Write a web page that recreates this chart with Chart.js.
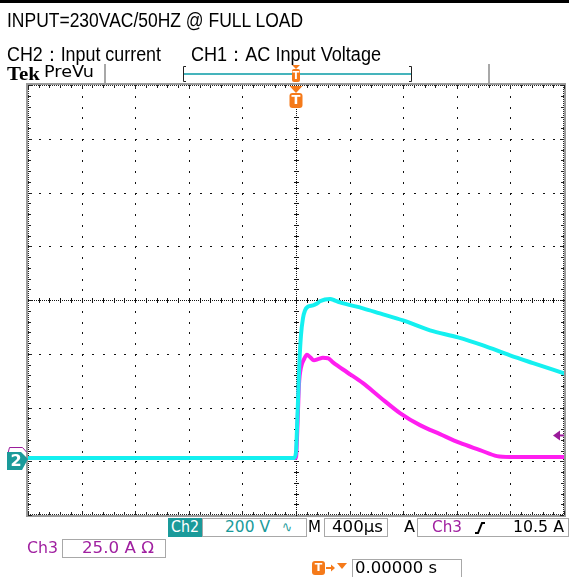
<!DOCTYPE html>
<html>
<head>
<meta charset="utf-8">
<script src="https://cdn.jsdelivr.net/npm/chart.js@4.4.1/dist/chart.umd.min.js"></script>
<style>
  html,body{margin:0;padding:0;background:#fff;}
  #wrap{position:relative;width:569px;height:577px;overflow:hidden;background:#fff;}
  #c{position:absolute;left:0;top:0;}
  .l{position:absolute;white-space:nowrap;line-height:1;transform-origin:0 0;}
  .hd{font-family:"Liberation Sans Narrow","Liberation Sans",Arial,sans-serif;font-size:20px;color:#000;}
  .tk{font-family:"DejaVu Sans",sans-serif;font-size:15px;}
  .box{position:absolute;border:1px solid #a8a8a8;background:#fff;box-sizing:border-box;}
</style>
</head>
<body>
<div id="wrap">
  <canvas id="c" width="569" height="577"></canvas>
  <div style="position:absolute;left:0;top:0;width:569px;height:3px;background:#000"></div>

  <div class="l hd" style="left:7px;top:10px" data-w="296">INPUT=230VAC/50HZ @ FULL LOAD</div>
  <div class="l hd" style="left:7px;top:44px" data-w="154">CH2：Input current</div>
  <div class="l hd" style="left:191px;top:44px" data-w="190">CH1：AC Input Voltage</div>

  <div class="l" style="left:7px;top:64px;font-family:'Liberation Serif',serif;font-weight:bold;font-size:19px" data-w="33">Tek</div>
  <div class="l tk" style="left:43.5px;top:65px;font-size:15px" data-w="50">PreVu</div>

  <!-- bottom status row 1 -->
  <div class="box" style="left:168px;top:518px;width:34px;height:19px;background:#1a9a9a;border-color:#1a9a9a"></div>
  <div class="l tk" style="left:170.5px;top:520px;color:#fff" data-w="28">Ch2</div>
  <div class="box" style="left:202px;top:518px;width:105px;height:19px"></div>
  <div class="l tk" style="left:225px;top:520px;color:#1a9a9a" data-w="45">200 V</div>
  <div class="l tk" style="left:282px;top:520px;color:#1a9a9a" data-w="10">∿</div>
  <div class="l tk" style="left:308px;top:520px;color:#000" data-w="13">M</div>
  <div class="box" style="left:324px;top:518px;width:64px;height:19px"></div>
  <div class="l tk" style="left:332px;top:520px;color:#000" data-w="51">400µs</div>
  <div class="l tk" style="left:404px;top:520px;color:#000" data-w="11">A</div>
  <div class="box" style="left:417px;top:518px;width:152px;height:19px"></div>
  <div class="l tk" style="left:432px;top:520px;color:#a020a0" data-w="30">Ch3</div>
  <svg style="position:absolute;left:474px;top:521px" width="12" height="14"><polyline points="1,12 4,12 8,2 11,2" fill="none" stroke="#000" stroke-width="2"/></svg>
  <div class="l tk" style="left:513px;top:520px;color:#000" data-w="51">10.5 A</div>

  <!-- row 2 -->
  <div class="l tk" style="left:27px;top:541px;color:#a020a0" data-w="31">Ch3</div>
  <div class="box" style="left:62px;top:539px;width:104px;height:19px"></div>
  <div class="l tk" style="left:82px;top:541px;color:#a020a0" data-w="72">25.0 A Ω</div>

  <!-- row 3 -->
  <div class="box" style="left:352px;top:559px;width:110px;height:20px"></div>
  <div class="l tk" style="left:355px;top:561px;color:#000" data-w="82">0.00000 s</div>
</div>

<script>
// ---- data (time in µs, Ch2 in volts, Ch3 in amps) ----
const timeCh2 = [-2000, -15, 0, 7, 15, 26, 37, 52, 67, 90, 127, 157, 179, 216, 254, 291, 328, 500, 627, 799, 1000, 1209, 1396, 1597, 1769, 2000];
const ch2Volts = [0, 0, 22, 104, 215, 364, 456, 520, 549, 564, 568, 575, 583, 590, 592, 586, 579, 557, 538, 512, 475, 449, 419, 382, 353, 315];

const timeCh3 = [-2000, 0, 7, 15, 22, 37, 60, 82, 104, 134, 164, 201, 239, 276, 381, 500, 627, 776, 925, 1075, 1224, 1373, 1500, 1597, 2000];
const ch3Amps = [0, 0, 8.3, 22, 34, 42, 46, 48, 47, 45.5, 46, 46.6, 46.4, 44.5, 39.9, 34.8, 28.3, 20.9, 15.3, 11.1, 7.0, 3.7, 0.9, 0.5, 0.5];

// scope settings (from the status bar)
const US_PER_DIV = 400;
const VOLTS_PER_DIV = 200;
const AMPS_PER_DIV = 25;
const TRIGGER_AMPS = 10.5;
const GROUND_DIV = -2.94;   // both channel ground markers

const ORANGE = '#f57a1a';
const TEAL = '#1a9a9a';
const PURPLE = '#9a1a9a';

const graticule = {
  id: 'graticule',
  beforeDatasetsDraw(chart) {
    const {ctx, chartArea: a, scales} = chart;
    const X = d => scales.x.getPixelForValue(d * US_PER_DIV);
    const Y = d => scales.g.getPixelForValue(d);
    ctx.save();
    ctx.strokeStyle = '#9a9a9a';
    ctx.lineWidth = 2;
    ctx.strokeRect(a.left - 1, a.top - 1, a.right - a.left + 2, a.bottom - a.top + 2);
    ctx.fillStyle = '#222';
    for (let px = Math.round(a.left); px <= a.right; px += 2) {
      ctx.fillRect(px, Math.round(a.top), 1, 1);
      ctx.fillRect(px, Math.round(a.bottom) - 1, 1, 1);
    }
    for (let py = Math.round(a.top); py <= a.bottom; py += 2) {
      ctx.fillRect(Math.round(a.left), py, 1, 1);
      ctx.fillRect(Math.round(a.right) - 1, py, 1, 1);
    }
    for (let m = -25; m <= 25; m++) {
      const px = Math.round(X(m / 5));
      const len = (m % 5 === 0) ? 4 : 3;
      ctx.fillRect(px, Math.round(a.top), 1, len);
      ctx.fillRect(px, Math.round(a.bottom) - len, 1, len);
    }
    for (let m = -20; m <= 20; m++) {
      const py = Math.round(Y(m / 5));
      const len = (m % 5 === 0) ? 4 : 3;
      ctx.fillRect(Math.round(a.left), py, len, 1);
      ctx.fillRect(Math.round(a.right) - len, py, len, 1);
    }
    ctx.fillStyle = '#111';
    for (let k = -4; k <= 4; k++) {
      if (k === 0) continue;
      const px = Math.round(X(k));
      for (let m = -19; m <= 19; m++) ctx.fillRect(px, Math.round(Y(m / 5)), 1, 2);
    }
    for (let j = -3; j <= 3; j++) {
      if (j === 0) continue;
      const py = Math.round(Y(j));
      for (let m = -24; m <= 24; m++) ctx.fillRect(Math.round(X(m / 5)), py, 2, 1);
    }
    const cx = Math.round(X(0)), cy = Math.round(Y(0));
    for (let py = Math.round(a.top); py <= a.bottom; py += 2) ctx.fillRect(cx, py, 1, 1);
    for (let px = Math.round(a.left); px <= a.right; px += 2) ctx.fillRect(px, cy, 1, 1);
    for (let m = -19; m <= 19; m++) ctx.fillRect(cx - 2, Math.round(Y(m / 5)), 5, 1);
    for (let m = -24; m <= 24; m++) ctx.fillRect(Math.round(X(m / 5)), cy - 2, 1, 5);
    ctx.restore();
  },
  afterDraw(chart) {
    const {ctx, chartArea: a, scales} = chart;
    const cx = scales.x.getPixelForValue(0);
    ctx.save();
    ctx.fillStyle = '#a8a8a8';
    ctx.fillRect(104, 64, 2, 19);
    ctx.fillRect(488, 64, 2, 19);
    ctx.strokeStyle = '#222';
    ctx.lineWidth = 1;
    ctx.beginPath();
    ctx.moveTo(186, 66.5); ctx.lineTo(183.5, 66.5); ctx.lineTo(183.5, 81.5); ctx.lineTo(186, 81.5);
    ctx.moveTo(409, 66.5); ctx.lineTo(411.5, 66.5); ctx.lineTo(411.5, 81.5); ctx.lineTo(409, 81.5);
    ctx.stroke();
    ctx.strokeStyle = '#45b4bc';
    ctx.lineWidth = 2;
    ctx.beginPath(); ctx.moveTo(184, 74); ctx.lineTo(411, 74); ctx.stroke();
    ctx.fillStyle = ORANGE;
    ctx.beginPath(); ctx.moveTo(cx - 4, 65); ctx.lineTo(cx + 4, 65); ctx.lineTo(cx, 69); ctx.fill();
    ctx.beginPath(); ctx.roundRect(cx - 4, 69, 8, 13, 2); ctx.fill();
    ctx.fillStyle = '#fff';
    ctx.font = 'bold 10px "DejaVu Sans"';
    ctx.textAlign = 'center'; ctx.textBaseline = 'middle';
    ctx.fillText('T', cx, 76);
    ctx.fillStyle = ORANGE;
    ctx.beginPath(); ctx.moveTo(cx - 6.5, a.top + 1); ctx.lineTo(cx + 6.5, a.top + 1); ctx.lineTo(cx, a.top + 8); ctx.fill();
    ctx.beginPath(); ctx.roundRect(cx - 6.5, a.top + 8, 13, 15, 3); ctx.fill();
    ctx.fillStyle = '#fff';
    ctx.font = 'bold 13px "DejaVu Sans"';
    ctx.fillText('T', cx, a.top + 16);
    const gy = scales.g.getPixelForValue(GROUND_DIV);
    ctx.strokeStyle = PURPLE; ctx.lineWidth = 1;
    ctx.beginPath();
    ctx.moveTo(7.5, gy - 3); ctx.lineTo(9.5, gy - 10.5); ctx.lineTo(22.5, gy - 10.5); ctx.lineTo(26.5, gy - 6);
    ctx.stroke();
    ctx.fillStyle = TEAL;
    ctx.beginPath();
    ctx.moveTo(7, gy - 6); ctx.lineTo(21, gy - 6); ctx.lineTo(28, gy + 1); ctx.lineTo(22, gy + 12); ctx.lineTo(7, gy + 12);
    ctx.closePath(); ctx.fill();
    ctx.fillStyle = '#fff';
    ctx.font = 'bold 16px "DejaVu Sans"';
    ctx.fillText('2', 16, gy + 3.5);
    const ty = scales.yA.getPixelForValue(TRIGGER_AMPS);
    ctx.fillStyle = PURPLE;
    ctx.beginPath(); ctx.moveTo(553, ty); ctx.lineTo(560, ty - 5); ctx.lineTo(560, ty + 5); ctx.fill();
    ctx.fillRect(559, ty - 1, 5, 2);
    ctx.fillStyle = ORANGE;
    ctx.beginPath(); ctx.roundRect(312, 561, 13, 14, 3); ctx.fill();
    ctx.fillStyle = '#fff';
    ctx.font = 'bold 11px "DejaVu Sans"';
    ctx.fillText('T', 318.5, 568.5);
    ctx.fillStyle = ORANGE;
    ctx.fillRect(326, 567, 6, 2);
    ctx.beginPath(); ctx.moveTo(331, 564.5); ctx.lineTo(335, 568); ctx.lineTo(331, 571.5); ctx.fill();
    ctx.beginPath(); ctx.moveTo(337, 563); ctx.lineTo(347, 563); ctx.lineTo(342, 569); ctx.fill();
    ctx.restore();
  }
};

new Chart(document.getElementById('c'), {
  type: 'line',
  data: {
    datasets: [
      {
        label: 'Ch2',
        data: timeCh2.map((t, i) => ({x: t, y: ch2Volts[i]})),
        yAxisID: 'yV',
        borderColor: '#14f0f0',
        borderWidth: 4,
        pointRadius: 0,
        cubicInterpolationMode: 'monotone',
        borderJoinStyle: 'round',
        borderCapStyle: 'round'
      },
      {
        label: 'Ch3',
        data: timeCh3.map((t, i) => ({x: t, y: ch3Amps[i]})),
        yAxisID: 'yA',
        borderColor: '#ff1ef0',
        borderWidth: 4,
        pointRadius: 0,
        cubicInterpolationMode: 'monotone',
        borderJoinStyle: 'round',
        borderCapStyle: 'round'
      }
    ]
  },
  options: {
    responsive: false,
    animation: false,
    devicePixelRatio: 1,
    layout: {padding: {left: 28, right: 5, top: 85, bottom: 62}},
    plugins: {legend: {display: false}, tooltip: {enabled: false}},
    scales: {
      x: {type: 'linear', axis: 'x', min: -5 * US_PER_DIV, max: 5 * US_PER_DIV, display: false},
      yV: {type: 'linear', axis: 'y', min: (-4 - GROUND_DIV) * VOLTS_PER_DIV, max: (4 - GROUND_DIV) * VOLTS_PER_DIV, display: false},
      yA: {type: 'linear', axis: 'y', min: (-4 - GROUND_DIV) * AMPS_PER_DIV, max: (4 - GROUND_DIV) * AMPS_PER_DIV, display: false},
      g: {type: 'linear', axis: 'y', min: -4, max: 4, display: false}
    }
  },
  plugins: [graticule]
});

document.querySelectorAll('[data-w]').forEach(el => {
  const w = el.getBoundingClientRect().width;
  if (w > 0) el.style.transform = 'scaleX(' + (parseFloat(el.dataset.w) / w) + ')';
});
</script>
</body>
</html>
